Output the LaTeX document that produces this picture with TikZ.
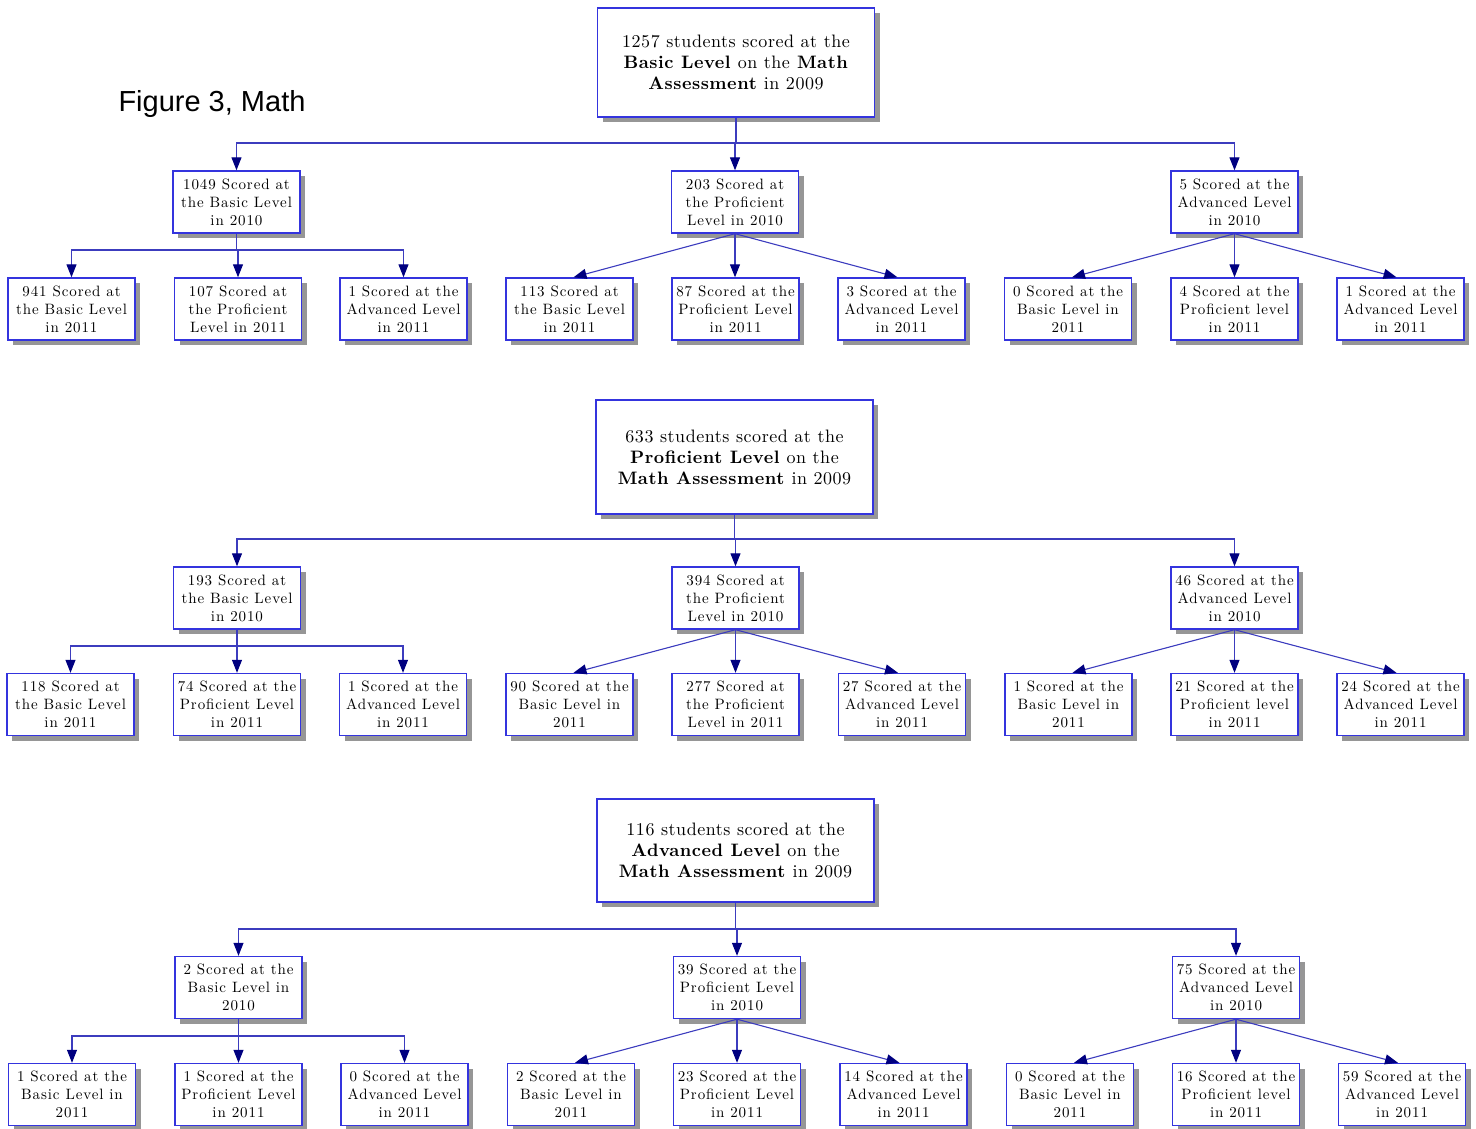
\documentclass[tikz,border=0pt]{standalone}
\usepackage{fontspec}
\usetikzlibrary{arrows.meta,shadows}
\newfontfamily\titlefont{Liberation Sans}
\newfontfamily\smallrm{lmroman10-regular.otf}[BoldFont=lmroman10-bold.otf, LetterSpace=6]
\newfontfamily\bigrm{lmroman10-regular.otf}[BoldFont=lmroman10-bold.otf, LetterSpace=3]
\definecolor{boxblue}{RGB}{52,52,222}
\definecolor{lineblue}{RGB}{60,60,190}
\definecolor{tipnavy}{RGB}{0,0,128}
\definecolor{shadowgray}{RGB}{150,150,150}
\newcommand\smallboxfont{\smallrm\fontsize{15}{18}\selectfont}
\newcommand\bigboxfont{\bigrm\fontsize{18}{21}\selectfont}
\tikzset{
  box/.style={draw=boxblue, line width=1.4pt, fill=white, align=center, inner sep=0pt,
    drop shadow={shadow xshift=5pt, shadow yshift=-5pt, fill=shadowgray, opacity=1}},
  sbox/.style={box, minimum width=127pt, minimum height=62pt, font=\smallboxfont},
  tbox/.style={box, minimum width=277pt, font=\bigboxfont},
  conn/.style={draw=lineblue, line width=1.1pt},
  arr/.style={conn, -{Triangle[width=10pt,length=13pt,color=tipnavy]}}
}
\begin{document}
\begin{tikzpicture}[x=1pt,y=-1pt]
\useasboundingbox (0,0) rectangle (1476,1129);
\node[font=\titlefont\fontsize{29}{32}\selectfont] (title) at (212,104) {Figure 3, Math};

% ---------------- Section 1 ----------------
\node[tbox, minimum height=109pt] (s1top) at (736,62.5) {1257 students scored at the\\ \textbf{Basic Level} on the \textbf{Math}\\ \textbf{Assessment} in 2009};
\node[sbox] (s1b) at (236.5,202) {1049 Scored at\\the Basic Level\\in 2010};
\node[sbox] (s1p) at (735,202) {203 Scored at\\the Proficient\\Level in 2010};
\node[sbox] (s1a) at (1234.5,202) {5 Scored at the\\Advanced Level\\in 2010};
\node[sbox] (s1bb) at (71.5,309) {941 Scored at\\the Basic Level\\in 2011};
\node[sbox] (s1bp) at (238,309) {107 Scored at\\the Proficient\\Level in 2011};
\node[sbox] (s1ba) at (403.5,309) {1 Scored at the\\Advanced Level\\in 2011};
\node[sbox] (s1pb) at (569.5,309) {113 Scored at\\the Basic Level\\in 2011};
\node[sbox] (s1pp) at (735.5,309) {87 Scored at the\\Proficient Level\\in 2011};
\node[sbox] (s1pa) at (901.5,309) {3 Scored at the\\Advanced Level\\in 2011};
\node[sbox] (s1ab) at (1068,309) {0 Scored at the\\Basic Level in\\2011};
\node[sbox] (s1ap) at (1234.5,309) {4 Scored at the\\Proficient level\\in 2011};
\node[sbox] (s1aa) at (1400.5,309) {1 Scored at the\\Advanced Level\\in 2011};
\coordinate (s1bus) at (736,143);
\coordinate (s1lbus) at (0,250);
\foreach \c in {s1b,s1p,s1a}
  \draw[arr] (s1top.south) -- (s1top.south |- s1bus) -| (\c.north);
\foreach \c in {s1bb,s1bp,s1ba}
  \draw[arr] (s1b.south) -- (s1b.south |- s1lbus) -| (\c.north);
\draw[arr] (s1p.south) -- ([xshift=4pt]s1pb.north);
\draw[arr] (s1p.south) -- (s1p.south |- s1pp.north);
\draw[arr] (s1p.south) -- ([xshift=-4pt]s1pa.north);
\draw[arr] (s1a.south) -- ([xshift=4pt]s1ab.north);
\draw[arr] (s1a.south) -- (s1a.south |- s1ap.north);
\draw[arr] (s1a.south) -- ([xshift=-4pt]s1aa.north);

% ---------------- Section 2 ----------------
\node[tbox, minimum height=114pt] (s2top) at (734.5,457) {633 students scored at the\\ \textbf{Proficient Level} on the\\ \textbf{Math Assessment} in 2009};
\node[sbox] (s2b) at (237,598) {193 Scored at\\the Basic Level\\in 2010};
\node[sbox] (s2p) at (735.5,598) {394 Scored at\\the Proficient\\Level in 2010};
\node[sbox] (s2a) at (1234.5,598) {46 Scored at the\\Advanced Level\\in 2010};
\node[sbox] (s2bb) at (70.5,704.5) {118 Scored at\\the Basic Level\\in 2011};
\node[sbox] (s2bp) at (237,704.5) {74 Scored at the\\Proficient Level\\in 2011};
\node[sbox] (s2ba) at (403,704.5) {1 Scored at the\\Advanced Level\\in 2011};
\node[sbox] (s2pb) at (569.5,704.5) {90 Scored at the\\Basic Level in\\2011};
\node[sbox] (s2pp) at (735.5,704.5) {277 Scored at\\the Proficient\\Level in 2011};
\node[sbox] (s2pa) at (902,704.5) {27 Scored at the\\Advanced Level\\in 2011};
\node[sbox] (s2ab) at (1068.5,704.5) {1 Scored at the\\Basic Level in\\2011};
\node[sbox] (s2ap) at (1234.5,704.5) {21 Scored at the\\Proficient level\\in 2011};
\node[sbox] (s2aa) at (1400.5,704.5) {24 Scored at the\\Advanced Level\\in 2011};
\coordinate (s2bus) at (735,539);
\coordinate (s2lbus) at (0,646);
\foreach \c in {s2b,s2p,s2a}
  \draw[arr] (s2top.south) -- (s2top.south |- s2bus) -| (\c.north);
\foreach \c in {s2bb,s2bp,s2ba}
  \draw[arr] (s2b.south) -- (s2b.south |- s2lbus) -| (\c.north);
\draw[arr] (s2p.south) -- ([xshift=4pt]s2pb.north);
\draw[arr] (s2p.south) -- (s2p.south |- s2pp.north);
\draw[arr] (s2p.south) -- ([xshift=-4pt]s2pa.north);
\draw[arr] (s2a.south) -- ([xshift=4pt]s2ab.north);
\draw[arr] (s2a.south) -- (s2a.south |- s2ap.north);
\draw[arr] (s2a.south) -- ([xshift=-4pt]s2aa.north);

% ---------------- Section 3 ----------------
\node[tbox, minimum height=103pt] (s3top) at (735.5,850.5) {116 students scored at the\\ \textbf{Advanced Level} on the\\ \textbf{Math Assessment} in 2009};
\node[sbox] (s3b) at (238.5,987.5) {2 Scored at the\\Basic Level in\\2010};
\node[sbox] (s3p) at (737,987.5) {39 Scored at the\\Proficient Level\\in 2010};
\node[sbox] (s3a) at (1236,987.5) {75 Scored at the\\Advanced Level\\in 2010};
\node[sbox] (s3bb) at (72,1094.5) {1 Scored at the\\Basic Level in\\2011};
\node[sbox] (s3bp) at (238.5,1094.5) {1 Scored at the\\Proficient Level\\in 2011};
\node[sbox] (s3ba) at (404.5,1094.5) {0 Scored at the\\Advanced Level\\in 2011};
\node[sbox] (s3pb) at (571,1094.5) {2 Scored at the\\Basic Level in\\2011};
\node[sbox] (s3pp) at (737,1094.5) {23 Scored at the\\Proficient Level\\in 2011};
\node[sbox] (s3pa) at (903.5,1094.5) {14 Scored at the\\Advanced Level\\in 2011};
\node[sbox] (s3ab) at (1070,1094.5) {0 Scored at the\\Basic Level in\\2011};
\node[sbox] (s3ap) at (1236,1094.5) {16 Scored at the\\Proficient level\\in 2011};
\node[sbox] (s3aa) at (1402,1094.5) {59 Scored at the\\Advanced Level\\in 2011};
\coordinate (s3bus) at (736,929);
\coordinate (s3lbus) at (0,1036);
\foreach \c in {s3b,s3p,s3a}
  \draw[arr] (s3top.south) -- (s3top.south |- s3bus) -| (\c.north);
\foreach \c in {s3bb,s3bp,s3ba}
  \draw[arr] (s3b.south) -- (s3b.south |- s3lbus) -| (\c.north);
\draw[arr] (s3p.south) -- ([xshift=4pt]s3pb.north);
\draw[arr] (s3p.south) -- (s3p.south |- s3pp.north);
\draw[arr] (s3p.south) -- ([xshift=-4pt]s3pa.north);
\draw[arr] (s3a.south) -- ([xshift=4pt]s3ab.north);
\draw[arr] (s3a.south) -- (s3a.south |- s3ap.north);
\draw[arr] (s3a.south) -- ([xshift=-4pt]s3aa.north);
\end{tikzpicture}
\end{document}
